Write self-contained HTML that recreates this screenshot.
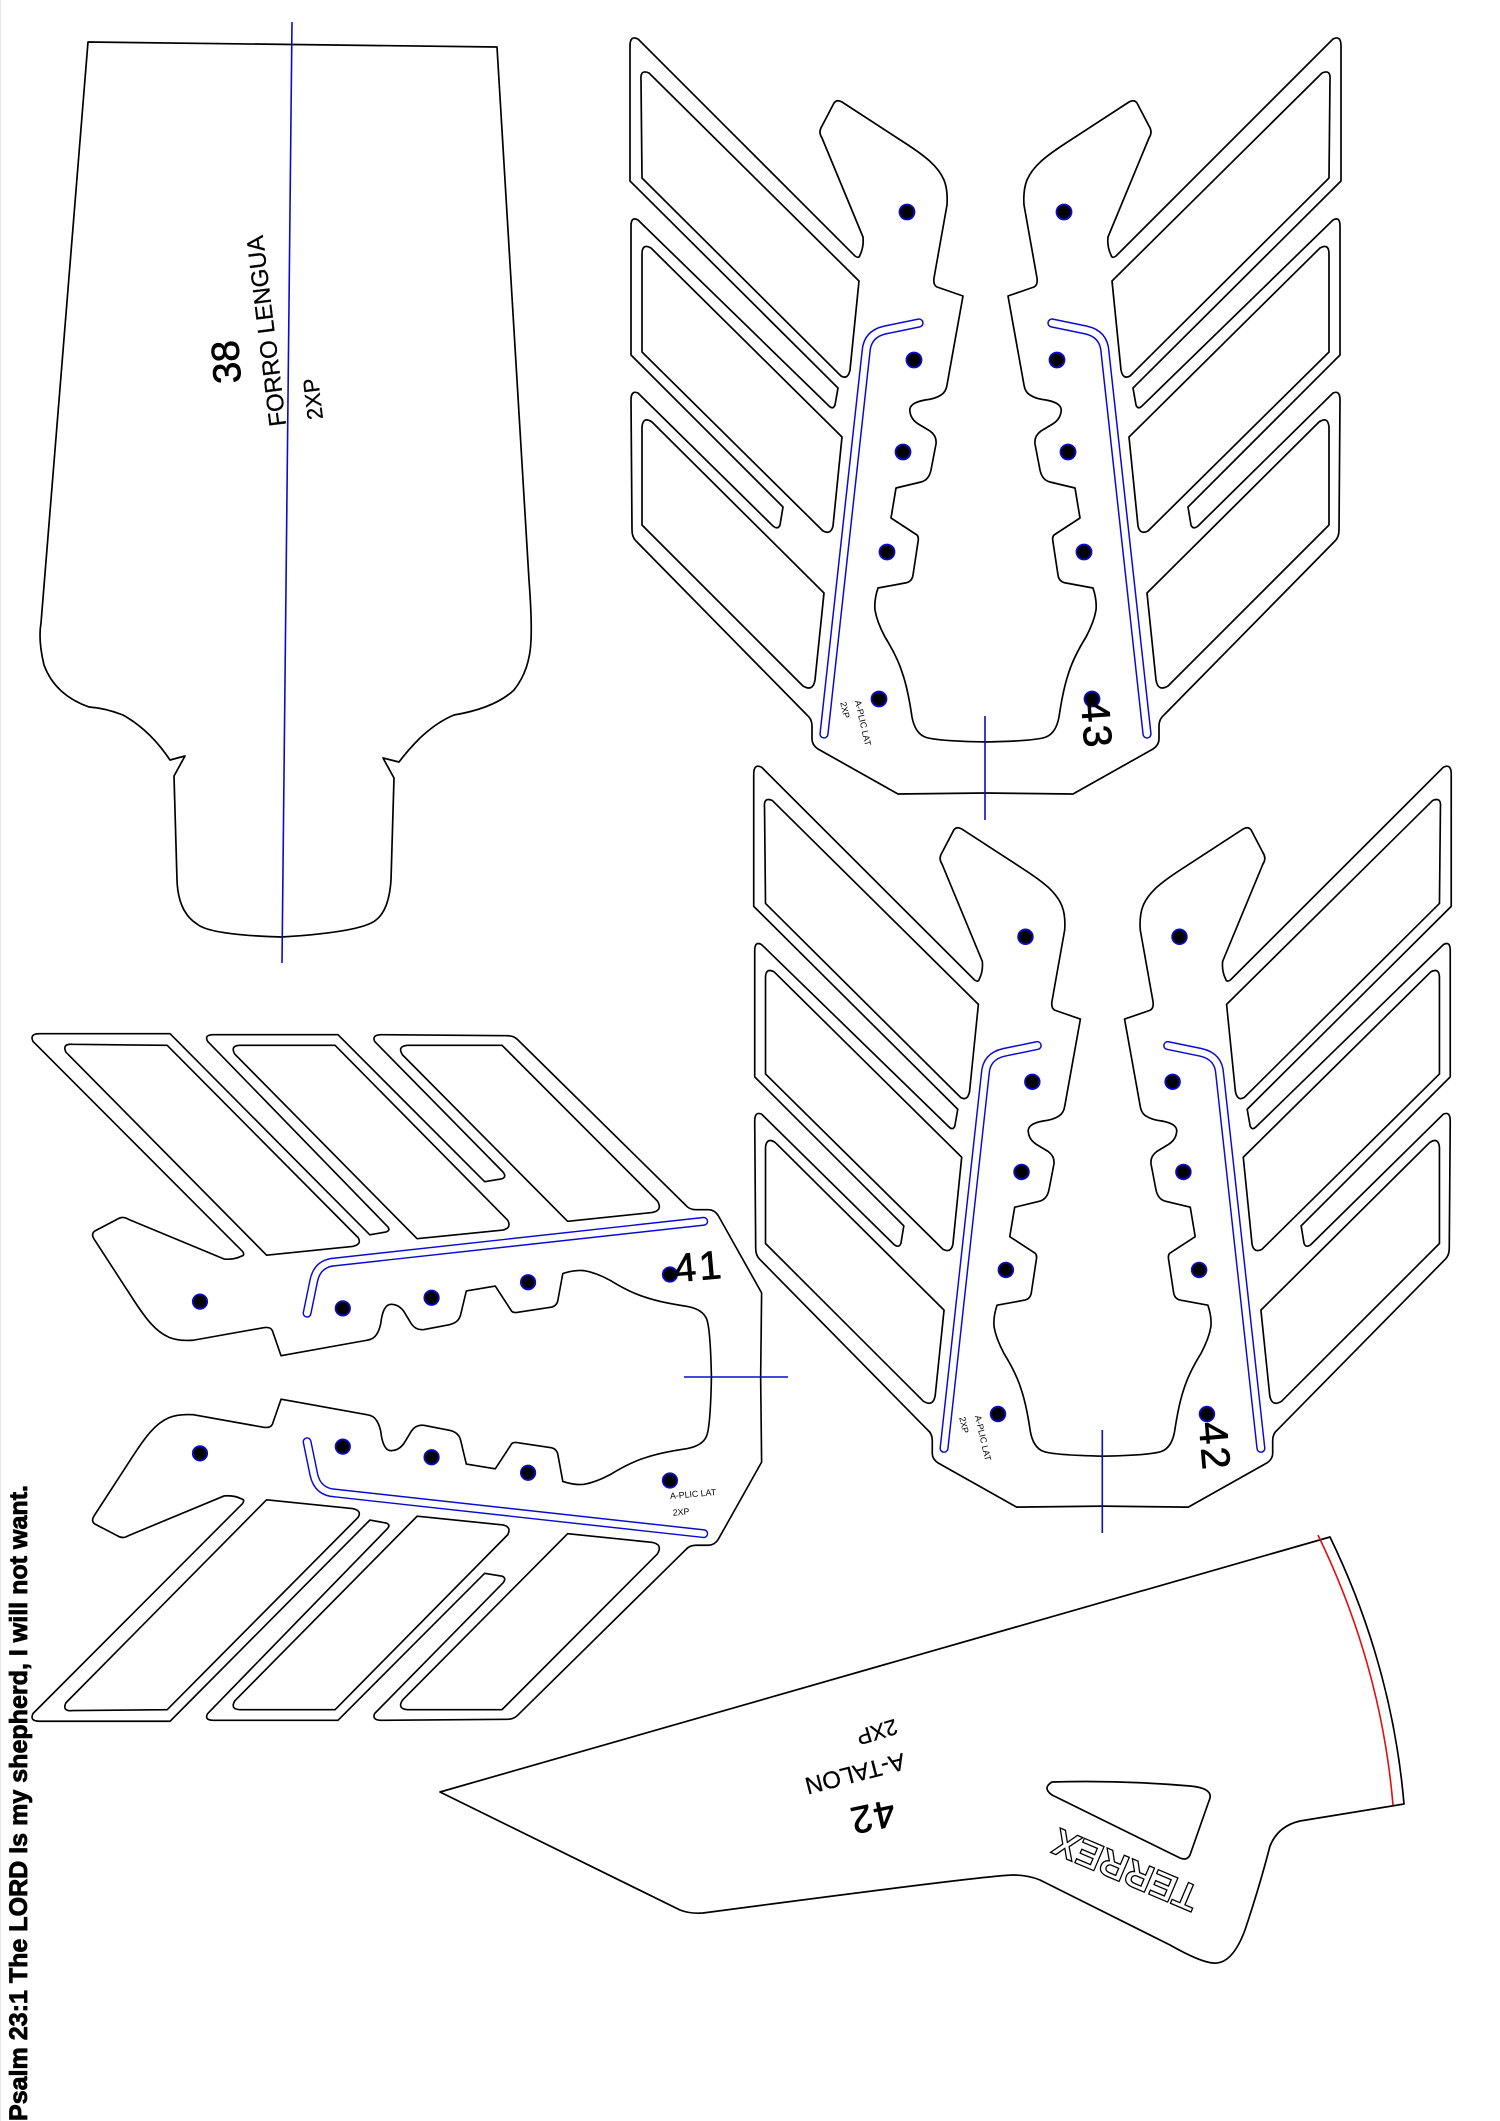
<!DOCTYPE html>
<html><head><meta charset="utf-8"><style>
html,body{margin:0;padding:0;background:#fff}
svg{display:block}
text{font-family:"Liberation Sans",Arial,sans-serif;fill:#000;text-anchor:middle;dominant-baseline:central}
.k{fill:none;stroke:#000;stroke-width:1.7;stroke-linejoin:round}
.b{fill:none;stroke:#0a0ad0;stroke-width:1.6}
.n{stroke:#000;stroke-width:.7}
.s{stroke:#000;stroke-width:.25}
</style></head><body>
<svg width="1500" height="2121" viewBox="0 0 1500 2121" xmlns="http://www.w3.org/2000/svg">
<rect width="1500" height="2121" fill="#fff"/>
<rect x="0" y="0" width="1" height="2121" fill="#e8e8e8"/>
<defs>
<g id="half">
<path class="k" d="M986,793 L898,794 L818,749 Q812,745 812,739 L812,726 Q812,719 807,715 L636,541 Q632,537 632,530 L631,400 Q631,390 638,393 L773,526 Q778,530 780,525 L783,507 L631,355 L631,226 Q631,216 638,220 L829,406 Q833,410 835,405 L838,388 L630,181 L630,46 Q630,35 638,39 L855,256 Q859,259 860,255 Q864,247 863,237 L822,138 Q818,132 822,126 L834,103 Q837,99 842,102 L905,143 C925,156 938,166 944,180 Q948,190 947,205 L934,278 Q933,285 937,287 L963,296 L947,385 Q946,392 941,395 Q935,399 925,400 Q908,403 910,412 Q911,420 920,425 L930,431 Q937,436 936,444 L931,470 Q929,480 921,482 L896,488 L891,518 L917,535 Q919,537 918,542 L913,575 Q912,582 905,583 L878,588 Q874,600 875,610 Q877,622 885,637 Q898,658 903,675 Q908,690 912,717 Q915,733 925,737 Q935,741 986,742"/>
<path class="k" d="M641,80 Q640,69 649,73 L859,281 L850,370 Q848,380 841,376 L642,178 Z"/>
<path class="k" d="M642,352 L642,254 Q642,243 651,248 L842,437 L833,526 Q831,535 823,531 Z"/>
<path class="k" d="M642,525 L642,427 Q643,416 652,422 L824,593 L815,680 Q813,692 803,686 Z"/>
<path d="M919,323 L885,330 Q867,334 866,352 L824,734" fill="none" stroke="#0a0ad0" stroke-width="9.4" stroke-linecap="round"/>
<path d="M919,323 L885,330 Q867,334 866,352 L824,734" fill="none" stroke="#fff" stroke-width="6.4" stroke-linecap="round"/>
<g fill="#000" stroke="#0a0ad0" stroke-width="1.8">
<circle cx="907" cy="212" r="7.5"/><circle cx="914" cy="360" r="7.5"/><circle cx="903" cy="452" r="7.5"/><circle cx="887" cy="552" r="7.5"/><circle cx="879" cy="699" r="7.5"/>
</g>
</g>
<g id="piece"><use href="#half"/><use href="#half" transform="matrix(-1 0 0 1 1971 0)"/></g>
</defs>

<!-- 38 -->
<path class="k" d="M88,42 L497,47 L529,580 Q532,620 531,640 Q530,670 514,690 Q495,708 454,715 Q437,722 420,738 Q408,750 399,762 L383,758 L394,778 L391,880 Q389,910 376,920 Q362,932 282,937 Q210,935 197,924 Q178,912 177,880 L174,776 L185,756 L170,760 Q150,730 123,715 Q105,708 89,707 Q55,695 44,665 Q38,640 41,623 Z"/>
<line class="b" x1="292" y1="22" x2="282" y2="963"/>
<text class="n" transform="translate(227,362) rotate(-94)" font-size="39">38</text>
<text class="s" transform="translate(267,331) rotate(-97)" font-size="24">FORRO LENGUA</text>
<text class="s" transform="translate(313,399) rotate(-97)" font-size="22">2XP</text>

<!-- 43 -->
<use href="#piece"/>
<line class="b" x1="985" y1="716" x2="985" y2="820"/>
<text class="n" transform="translate(1096,725) rotate(86)" font-size="40" letter-spacing="3">43</text>
<text transform="translate(863,723) rotate(77)" font-size="8.8">A-PLIC LAT</text>
<text transform="translate(845,710) rotate(77)" font-size="8.8">2XP</text>

<!-- 42 -->
<use href="#piece" transform="matrix(.981 0 0 .98 135.7 729)"/>
<line class="b" x1="1102.3" y1="1430" x2="1102.3" y2="1533"/>
<text class="n" transform="translate(1214,1447) rotate(85)" font-size="40" letter-spacing="3">42</text>
<text transform="translate(983,1438) rotate(77)" font-size="8.8">A-PLIC LAT</text>
<text transform="translate(964,1425) rotate(77)" font-size="8.8">2XP</text>

<!-- 41 -->
<use href="#piece" transform="matrix(0 .967 .965 0 -4.6 424.5)"/>
<line class="b" x1="684" y1="1377" x2="788" y2="1377"/>
<text class="n" transform="translate(699,1267) rotate(-5)" font-size="40" letter-spacing="3">41</text>
<text transform="translate(693,1494) rotate(-5)" font-size="8.8">A-PLIC LAT</text>
<text transform="translate(681,1512) rotate(-5)" font-size="8.8">2XP</text>

<!-- talon -->
<path class="k" d="M440,1792 L1330,1537 Q1392,1665 1404,1804 L1300,1821 Q1278,1826 1270,1846 Q1260,1885 1245,1930 Q1232,1965 1213,1963 Q1200,1962 1170,1945 L1040,1880 Q1028,1875 1013,1875 Q990,1875 703,1913 Q690,1914 680,1910 Z"/>
<path class="k" d="M1052,1782 Q1120,1780 1190,1786 Q1212,1788 1210,1798 L1190,1855 Q1187,1861 1180,1858 L1052,1795 Q1042,1788 1052,1782 Z"/>
<path d="M1318,1535 Q1381,1665 1393,1805" fill="none" stroke="#e01010" stroke-width="1.6"/>
<text transform="translate(1126,1869) rotate(203)" font-size="38" font-weight="bold" style="fill:#fff;stroke:#000;stroke-width:1.3">TERREX</text>
<text class="n" transform="translate(872,1816) rotate(168)" font-size="38" letter-spacing="2">42</text>
<text class="s" transform="translate(855,1773) rotate(165.5)" font-size="24">A-TALON</text>
<text class="s" transform="translate(877,1732) rotate(163)" font-size="22">2XP</text>

<!-- psalm -->
<text transform="translate(27,2121) rotate(-90)" font-size="25" font-weight="bold" textLength="636" lengthAdjust="spacingAndGlyphs" style="text-anchor:start;dominant-baseline:auto;stroke:#000;stroke-width:.8">Psalm 23:1 The LORD Is my shepherd, I will not want.</text>
</svg>
</body></html>
